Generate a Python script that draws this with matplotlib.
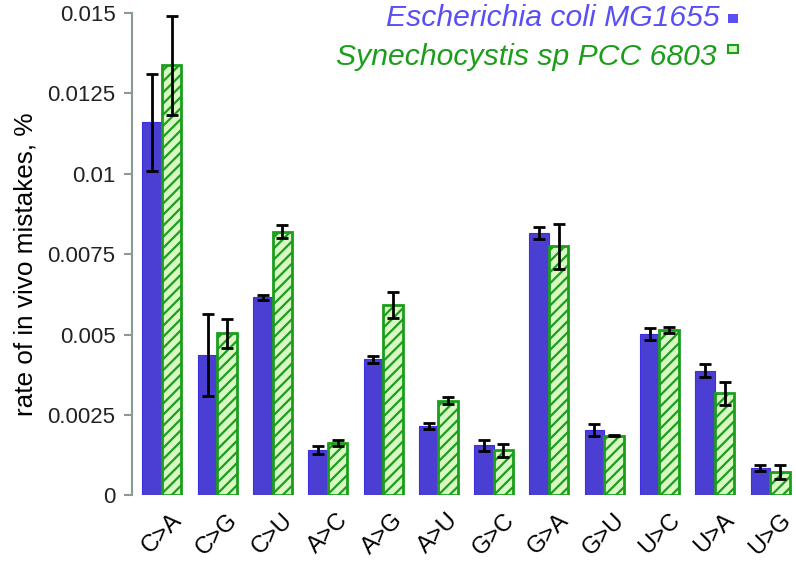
import matplotlib
matplotlib.use("Agg")
import matplotlib.pyplot as plt
import numpy as np
from matplotlib.patches import Rectangle

plt.rcParams["font.family"] = ["Liberation Sans", "DejaVu Sans"]
plt.rcParams["hatch.linewidth"] = 1.6

# mutation classes on the x axis
mutations = ["C>A", "C>G", "C>U", "A>C", "A>G", "A>U",
             "G>C", "G>A", "G>U", "U>C", "U>A", "U>G"]

# E. coli MG1655
ecoli_rate = [0.01160, 0.00437, 0.00616, 0.00141, 0.00423, 0.00216,
              0.00156, 0.00815, 0.00203, 0.00502, 0.00388, 0.00086]
ecoli_err = [0.00150, 0.00127, 0.00008, 0.00013, 0.00011, 0.00010,
             0.00017, 0.00018, 0.00018, 0.00020, 0.00020, 0.00010]

# Synechocystis sp PCC 6803
syn_rate = [0.01337, 0.00504, 0.00820, 0.00164, 0.00592, 0.00294,
            0.00141, 0.00775, 0.00186, 0.00514, 0.00317, 0.00072]
syn_err = [0.00154, 0.00046, 0.00020, 0.00009, 0.00039, 0.00011,
           0.00020, 0.00070, 0.00002, 0.00010, 0.00036, 0.00022]

yticks = [0, 0.0025, 0.005, 0.0075, 0.01, 0.0125, 0.015]
ytick_labels = ["0", "0.0025", "0.005", "0.0075", "0.01", "0.0125", "0.015"]

BLUE = "#4a3fd2"
BLUE_TXT = "#5a4ff2"
GREEN = "#1c9e1c"
GREEN_FILL = "#d8f8c4"
SPINE = "#8a9a9a"

fig = plt.figure(figsize=(7.96, 5.63), dpi=100)
ax = fig.add_axes([0.166, 0.12, 0.834, 0.857])

x = np.arange(len(mutations))
w = 0.353
err_kw = dict(ecolor="black", elinewidth=2, capsize=4, capthick=2)

ax.bar(x - w / 2, ecoli_rate, w, color=BLUE, edgecolor="#3a30e0", linewidth=0.8,
       yerr=ecoli_err, error_kw=err_kw, zorder=2)
ax.bar(x + w / 2, syn_rate, w, color=GREEN_FILL, edgecolor=GREEN, linewidth=2,
       hatch="///", yerr=syn_err, error_kw=err_kw, zorder=2)

ax.set_xlim(-0.54, 11.47)
ax.set_ylim(0, 0.015)
ax.set_yticks(yticks)
ax.set_yticklabels(ytick_labels, fontsize=16, color="#222222")
ax.set_xticks(x)
ax.set_xticklabels(mutations, rotation=45, ha="center", fontsize=17)
ax.tick_params(axis="x", length=0, pad=10)
ax.tick_params(axis="y", direction="out", length=6, width=1.5, color=SPINE, pad=6)
ax.set_ylabel("rate of in vivo mistakes, %", fontsize=18.8)
ax.yaxis.set_label_coords(-0.142, 0.48)

for side in ["top", "right", "bottom"]:
    ax.spines[side].set_visible(False)
ax.spines["left"].set_color(SPINE)
ax.spines["left"].set_linewidth(1.5)

# legend-like labels at top right
fig.text(720 / 796, 1 - 18 / 563, "Escherichia coli MG1655", color=BLUE_TXT,
         fontsize=21.7, style="italic", ha="right", va="center")
fig.text(717 / 796, 1 - 57 / 563, "Synechocystis sp PCC 6803", color=GREEN,
         fontsize=21.7, style="italic", ha="right", va="center")
fig.add_artist(Rectangle((728 / 796, 1 - 23 / 563), 10 / 796, 9 / 563,
                         transform=fig.transFigure, facecolor="#5a4ff2",
                         edgecolor="none"))
fig.add_artist(Rectangle((728 / 796, 1 - 53 / 563), 10 / 796, 8 / 563,
                         transform=fig.transFigure, facecolor=GREEN_FILL,
                         edgecolor=GREEN, linewidth=1.5))

fig.savefig("out.png", dpi=100)
